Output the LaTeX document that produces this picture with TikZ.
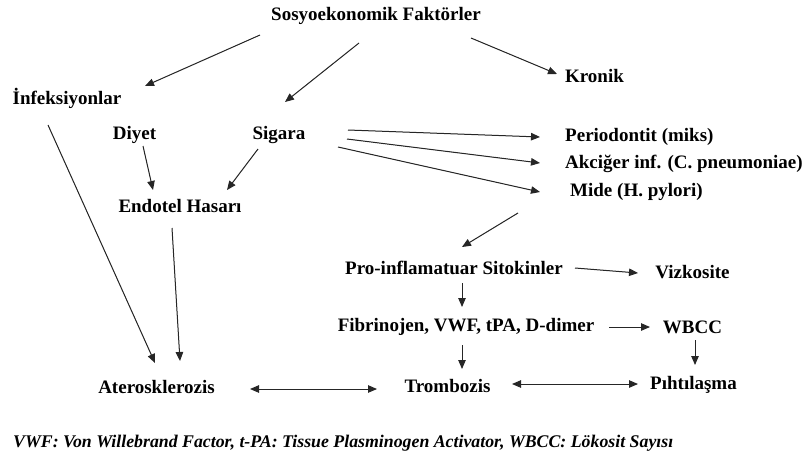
\documentclass[tikz,border=0pt]{standalone}
\usepackage{fontspec}
\setmainfont{Liberation Serif}
\usetikzlibrary{arrows.meta}

\begin{document}
\begin{tikzpicture}[x=1pt, y=-1pt, font=\fontsize{19}{22}\selectfont\bfseries,
  >={Triangle[length=9pt,width=7.5pt]},
  lbl/.style={inner sep=0pt, anchor=base},
  lblw/.style={inner sep=0pt, anchor=base west},
  link/.style={->, line width=1pt, draw=black!85, fill=black!85},
  both/.style={<->, line width=1pt, draw=black!85, fill=black!85}]
  \useasboundingbox (0,0) rectangle (805,456);
  % top level
  \node[lbl] (sosyo) at (376,20) {Sosyoekonomik Faktörler};
  \node[lbl] (infek) at (67,104) {İnfeksiyonlar};
  \node[lbl] (kronik) at (594.5,82) {Kronik};
  \node[lbl] (diyet) at (134.5,139) {Diyet};
  \node[lbl] (sigara) at (279,139) {Sigara};
  \node[lbl] (endotel) at (180,212) {Endotel Hasarı};
  % infections
  \node[lblw] (perio) at (565,141) {Periodontit (miks)};
  \node[lblw] (akciger) at (565,168) {Akciğer inf. (C. pneumoniae)};
  \node[lblw] (mide) at (570,196) {Mide (H. pylori)};
  % inflammation chain
  \node[lbl] (proinf) at (454,274) {Pro-inflamatuar Sitokinler};
  \node[lbl] (vizko) at (692.5,278) {Vizkosite};
  \node[lbl] (fibrin) at (466,331) {Fibrinojen, VWF, tPA, D-dimer};
  \node[lbl] (wbcc) at (692.5,333) {WBCC};
  \node[lbl] (atero) at (156.5,393) {Aterosklerozis};
  \node[lbl] (trombo) at (447.5,392) {Trombozis};
  \node[lbl] (pihti) at (693.5,389) {Pıhtılaşma};
  \node[lblw, font=\fontsize{17.8}{20}\selectfont\bfseries\itshape] (note) at (13,447)
    {VWF: Von Willebrand Factor, t-PA: Tissue Plasminogen Activator, WBCC: Lökosit Sayısı};

  \draw[link] ([shift={(-116,15)}]sosyo.base) -- ([shift={(78,-18)}]infek.base);
  \draw[link] ([shift={(-17,23)}]sosyo.base) -- ([shift={(6,-37)}]sigara.base);
  \draw[link] ([shift={(95,18)}]sosyo.base) -- ([shift={(-37.5,-8)}]kronik.base);
  \draw[link] ([shift={(-19,21)}]infek.base) -- ([shift={(-1.5,-30)}]atero.base);
  \draw[link] ([shift={(8.5,7)}]diyet.base) -- ([shift={(-27,-22)}]endotel.base);
  \draw[link] ([shift={(-21,10)}]sigara.base) -- ([shift={(47,-22)}]endotel.base);
  \draw[link] ([shift={(-8,16)}]endotel.base) -- ([shift={(23.5,-32)}]atero.base);
  \draw[link] ([shift={(69,-9)}]sigara.base) -- ([shift={(-25,-4)}]perio.base west);
  \draw[link] ([shift={(68,0)}]sigara.base) -- ([shift={(-25,-5)}]akciger.base west);
  \draw[link] ([shift={(59,8)}]sigara.base) -- ([shift={(-30,-4)}]mide.base west);
  \draw[link] ([shift={(-52,17)}]mide.base west) -- ([shift={(8,-27)}]proinf.base);
  \draw[link] ([shift={(121,-6)}]proinf.base) -- ([shift={(-54.5,-5)}]vizko.base);
  \draw[link] ([shift={(8,9)}]proinf.base) -- ([shift={(-4,-24)}]fibrin.base);
  \draw[link] ([shift={(143,-4)}]fibrin.base) -- ([shift={(-42.5,-6)}]wbcc.base);
  \draw[link] ([shift={(-4,14)}]fibrin.base) -- ([shift={(14.5,-23)}]trombo.base);
  \draw[link] ([shift={(2.5,7)}]wbcc.base) -- ([shift={(1.5,-24)}]pihti.base);
  \draw[both] ([shift={(93.5,-4)}]atero.base) -- ([shift={(-70.5,-3)}]trombo.base);
  \draw[both] ([shift={(64.5,-8)}]trombo.base) -- ([shift={(-55.5,-5)}]pihti.base);
\end{tikzpicture}
\end{document}
